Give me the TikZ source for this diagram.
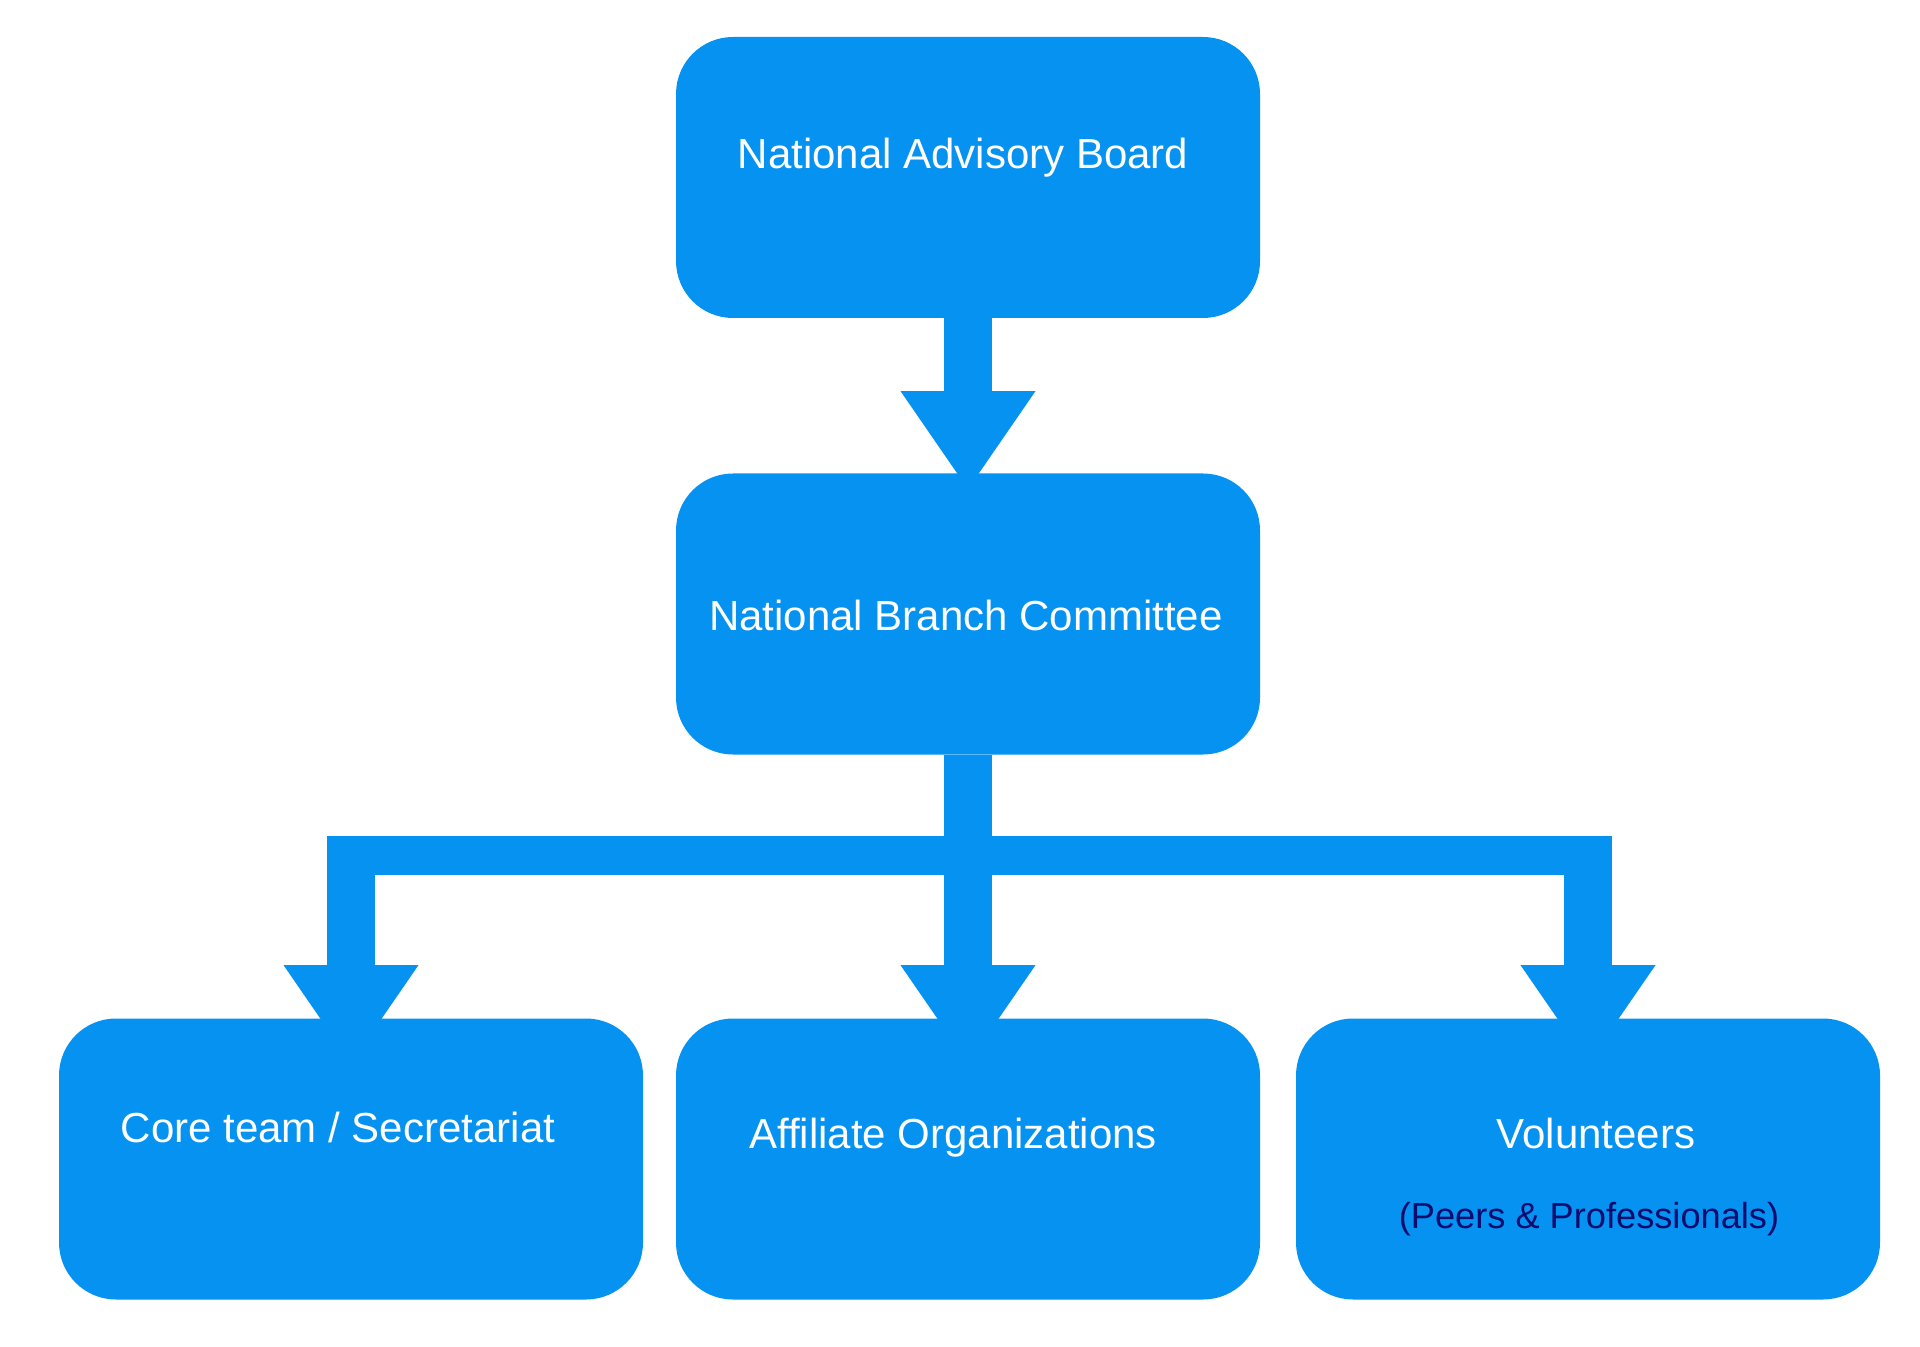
\documentclass[tikz,border=0pt]{standalone}
\usepackage{fontspec}
\setmainfont{Liberation Sans}
\usetikzlibrary{arrows.meta}
\pgfdeclarelayer{background}
\pgfsetlayers{background,main}
\definecolor{boxblue}{RGB}{5,146,241}
\definecolor{subnavy}{RGB}{10,12,110}
\begin{document}
\begin{tikzpicture}[x=0.5pt,y=-0.5pt,
  box/.style={rectangle, fill=boxblue, draw=none, rounded corners=28.5pt,
    minimum width=292pt, minimum height=140.5pt, inner sep=0pt},
  txt/.style={text=white, inner sep=0pt, anchor=base,
    font=\fontsize{21pt}{25pt}\selectfont},
  subtxt/.style={text=subnavy, inner sep=0pt, anchor=base,
    font=\fontsize{18.1pt}{21pt}\selectfont},
  conn/.style={draw=boxblue, line width=24pt, line join=miter,
    -{Triangle[width=67.5pt,length=49pt,line width=0pt]}},
  bar/.style={draw=boxblue, line width=19.5pt}]
\useasboundingbox (0,0) rectangle (1920,1347);
% boxes
\node[box] (b1) at (968,177.5) {};
\node[box] (b2) at (968,614) {};
\node[box] (b3) at (351,1159) {};
\node[box] (b4) at (968,1159) {};
\node[box] (b5) at (1588,1159) {};
% texts
\node[txt] (t1) at (963,169) {National Advisory Board};
\node[txt] (t2) at (966,630) {National Branch Committee};
\node[txt] (t3) at (338,1142) {Core team / Secretariat};
\node[txt] (t4) at (953,1148) {Affiliate Organizations};
\node[txt] (t5) at (1596,1148) {Volunteers};
\node[subtxt] (t6) at (1589,1228) {(Peers \& Professionals)};
% connector helpers
\coordinate (barc) at (968,855.5);
\coordinate (bartop) at (968,836);
\begin{pgfonlayer}{background}
  \draw[conn] (b1.south) -- ([yshift=-8pt]b2.north);
  \draw[conn] (b2.south) -- ([yshift=-22.5pt]b4.north);
  \draw[bar] ([xshift=-12pt]b3.north |- barc) -- ([xshift=12pt]b5.north |- barc);
  \draw[conn] (b3.north |- bartop) -- ([yshift=-22.5pt]b3.north);
  \draw[conn] (b5.north |- bartop) -- ([yshift=-22.5pt]b5.north);
\end{pgfonlayer}
\end{tikzpicture}
\end{document}
